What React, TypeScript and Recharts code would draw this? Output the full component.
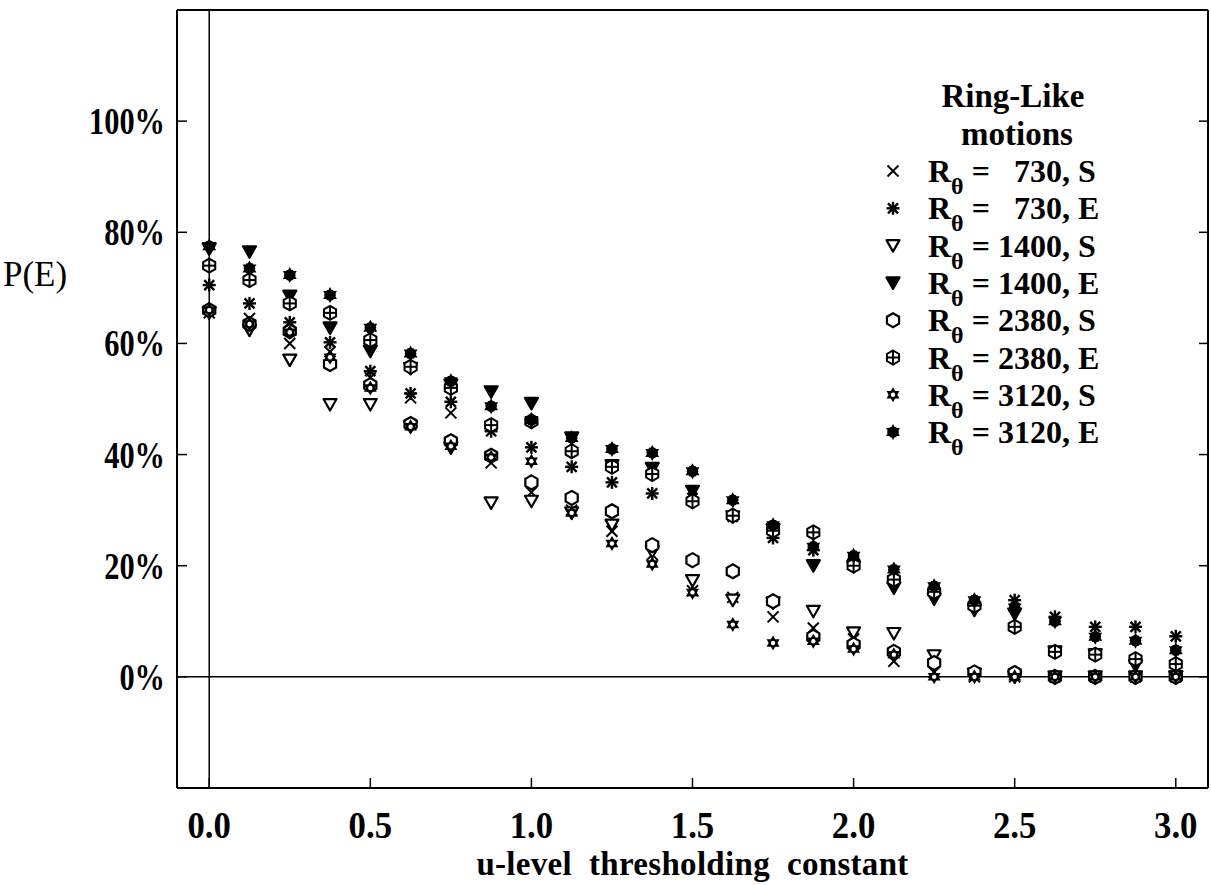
import React from "react"
import { ScatterChart, Scatter, XAxis, YAxis, ReferenceLine, Legend } from "recharts"

// u-level thresholding constant
const uLevels = [0, 0.125, 0.25, 0.375, 0.5, 0.625, 0.75, 0.875, 1.0, 1.125, 1.25, 1.375, 1.5, 1.625, 1.75, 1.875, 2.0, 2.125, 2.25, 2.375, 2.5, 2.625, 2.75, 2.875, 3.0]

// P(E) in percent, one array per case
const re730S = [65.5, 64.5, 60, 58.5, 53.8, 50.2, 47.5, 38.5, 33.2, 30, 26.2, 22, 15.5, 14.3, 10.8, 8.8, 6.8, 2.8, 0.8, 0, 0, 0, 0, 0, 0]
const re730E = [70.5, 67.2, 63.8, 60.2, 55, 51, 49.5, 44.2, 41.3, 37.8, 35, 33, 32.2, 28.8, 25, 22.8, 21, 17.2, 15.6, 13.3, 13.8, 10.8, 9, 9, 7.3]
const re1400S = [65.5, 62.4, 57, 49, 49, 45, 41.2, 31.3, 31.6, 29.5, 27.3, 22.5, 17.3, 13.8, 13.3, 11.8, 7.9, 7.8, 3.8, 0.5, 0, 0, 0, 0, 0]
const re1400E = [77, 76.5, 68.5, 62.8, 58.6, 55.5, 52.5, 51.3, 49.2, 43, 38, 37.5, 33.4, 28.8, 26.5, 20, 19.8, 16, 14, 12, 11.3, 4.5, 4, 2, 0]
const re2380S = [66, 63.5, 62.2, 56.3, 52.5, 45.5, 42.4, 39.8, 35, 32.2, 29.8, 23.7, 21, 19, 13.6, 7.2, 5.8, 4.5, 2.5, 0.8, 0.7, 0, 0, 0, 0]
const re2380E = [74, 71.4, 67.2, 65.5, 60.6, 55.8, 52, 45.3, 46, 40.6, 37.8, 36.5, 31.6, 29, 26.3, 26, 20, 17.5, 15.3, 12.8, 9, 4.5, 4, 3.2, 2.3]
const re3120S = [66, 63.5, 62, 57.5, 52, 45, 41.5, 39.5, 38.8, 29.5, 24, 20.3, 15.2, 9.4, 6.1, 6.4, 5, 4, 0, 0, 0, 0, 0, 0, 0]
const re3120E = [77.5, 73.5, 72.3, 68.7, 62.8, 58.2, 53.2, 48.7, 46.2, 43, 41, 40.3, 37, 31.8, 27.3, 23.4, 21.8, 19.3, 16.3, 13.8, 12.5, 10, 7.2, 6.5, 4.8]

const xTicks = [0, 0.5, 1.0, 1.5, 2.0, 2.5, 3.0]
const yTicks = [0, 20, 40, 60, 80, 100]

type Kind = "cross" | "aster" | "triOpen" | "triFill" | "hexOpen" | "hexPlus" | "starOpen" | "starFill"

const series: { re: string; flow: string; kind: Kind; values: number[] }[] = [
  { re: "\u2007730", flow: "S", kind: "cross", values: re730S },
  { re: "\u2007730", flow: "E", kind: "aster", values: re730E },
  { re: "1400", flow: "S", kind: "triOpen", values: re1400S },
  { re: "1400", flow: "E", kind: "triFill", values: re1400E },
  { re: "2380", flow: "S", kind: "hexOpen", values: re2380S },
  { re: "2380", flow: "E", kind: "hexPlus", values: re2380E },
  { re: "3120", flow: "S", kind: "starOpen", values: re3120S },
  { re: "3120", flow: "E", kind: "starFill", values: re3120E },
]

const FONT = "'Liberation Serif', 'Times New Roman', serif"

const poly = (cx: number, cy: number, r: number, n: number, start: number) =>
  Array.from({ length: n }, (_, i) => {
    const a = start + (i * 2 * Math.PI) / n
    return `${cx + r * Math.cos(a)},${cy + r * Math.sin(a)}`
  }).join(" ")

const Marker = ({ kind, cx, cy }: { kind: Kind; cx: number; cy: number }) => {
  const k = "#000"
  switch (kind) {
    case "cross":
      return (
        <g stroke={k} strokeWidth={2}>
          <line x1={cx - 5.5} y1={cy - 5.5} x2={cx + 5.5} y2={cy + 5.5} />
          <line x1={cx - 5.5} y1={cy + 5.5} x2={cx + 5.5} y2={cy - 5.5} />
        </g>
      )
    case "aster":
      return (
        <g stroke={k} strokeWidth={2.4}>
          <line x1={cx} y1={cy - 6.5} x2={cx} y2={cy + 6.5} />
          <line x1={cx - 6.5} y1={cy} x2={cx + 6.5} y2={cy} />
          <line x1={cx - 5} y1={cy - 5} x2={cx + 5} y2={cy + 5} />
          <line x1={cx - 5} y1={cy + 5} x2={cx + 5} y2={cy - 5} />
        </g>
      )
    case "triOpen":
    case "triFill":
      return (
        <polygon
          points={`${cx - 6.5},${cy - 5.5} ${cx + 6.5},${cy - 5.5} ${cx},${cy + 6}`}
          fill={kind === "triFill" ? k : "#fff"}
          stroke={k}
          strokeWidth={2.2}
          strokeLinejoin="round"
        />
      )
    case "hexOpen":
      return <polygon points={poly(cx, cy, 7, 6, -Math.PI / 2)} fill="#fff" stroke={k} strokeWidth={2.2} />
    case "hexPlus":
      return (
        <g stroke={k} strokeWidth={2}>
          <polygon points={poly(cx, cy, 7, 6, -Math.PI / 2)} fill="#fff" />
          <line x1={cx - 6.5} y1={cy} x2={cx + 6.5} y2={cy} />
          <line x1={cx} y1={cy - 7} x2={cx} y2={cy + 7} />
        </g>
      )
    case "starOpen":
      return (
        <g>
          <polygon points={poly(cx, cy, 7.5, 3, -Math.PI / 2)} fill={k} />
          <polygon points={poly(cx, cy, 7.5, 3, Math.PI / 2)} fill={k} />
          <circle cx={cx} cy={cy} r={2.2} fill="#fff" />
        </g>
      )
    case "starFill":
    default:
      return (
        <g fill={k}>
          <polygon points={poly(cx, cy, 8, 3, -Math.PI / 2)} />
          <polygon points={poly(cx, cy, 8, 3, Math.PI / 2)} />
          <polygon points={poly(cx, cy, 6, 6, 0)} />
        </g>
      )
  }
}

const BottomTick = (props: any) => {
  const { x, y, payload } = props
  return (
    <g>
      <line x1={x} x2={x} y1={y} y2={y - 10} stroke="#000" strokeWidth={1.5} />
      <text
        transform={`translate(${x},${y + 50}) scale(0.94,1)`}
        textAnchor="middle"
        fontFamily={FONT}
        fontWeight="bold"
        fontSize={37}
        fill="#000"
      >
        {Number(payload.value).toFixed(1)}
      </text>
    </g>
  )
}

const TopTick = (props: any) => {
  const { x, y } = props
  return <line x1={x} x2={x} y1={y} y2={y + 10} stroke="#000" strokeWidth={1.5} />
}

const LeftTick = (props: any) => {
  const { x, y, payload } = props
  return (
    <g>
      <line x1={x} x2={x + 10} y1={y} y2={y} stroke="#000" strokeWidth={1.5} />
      <text
        transform={`translate(${x - 12},${y + 13}) scale(0.8,1)`}
        textAnchor="end"
        fontFamily={FONT}
        fontWeight="bold"
        fontSize={38}
        fill="#000"
      >
        {`${payload.value}%`}
      </text>
    </g>
  )
}

const RightTick = (props: any) => {
  const { x, y } = props
  return <line x1={x} x2={x - 9} y1={y} y2={y} stroke="#000" strokeWidth={1.5} />
}

const LegendBox = () => (
  <svg width={350} height={390} style={{ display: "block" }}>
    <g fontFamily={FONT} fontWeight="bold" fill="#000">
      <text x={153} y={37} fontSize={33} textAnchor="middle">Ring-Like</text>
      <text x={157} y={75} fontSize={33} textAnchor="middle">motions</text>
      {series.map((s, i) => {
        const cy = 101 + i * 37.3
        return (
          <g key={i}>
            <Marker kind={s.kind} cx={33} cy={cy} />
            <text x={68} y={cy + 11} fontSize={32}>
              R
              <tspan fontSize={24} dy={12}>θ</tspan>
              <tspan dy={-12}>{` = ${s.re}, ${s.flow}`}</tspan>
            </text>
          </g>
        )
      })}
    </g>
  </svg>
)

export default function App() {
  return (
    <div style={{ position: "absolute", left: 0, top: 0, width: 1211, height: 885, background: "#fff" }}>
      <ScatterChart width={1211} height={885} margin={{ top: 9, right: 2, bottom: 0, left: 0 }}>
        <XAxis
          dataKey="u"
          type="number"
          domain={[-0.1, 3.1]}
          ticks={xTicks}
          height={97}
          tickSize={0}
          tickMargin={0}
          tick={BottomTick}
          axisLine={{ stroke: "#000", strokeWidth: 2 }}
          allowDataOverflow
          label={(p: any) => {
            const vb = p.viewBox
            return (
              <text
                x={vb.x + vb.width / 2}
                y={vb.y + 87}
                textAnchor="middle"
                fontFamily={FONT}
                fontWeight="bold"
                fontSize={33}
                letterSpacing={0.3}
                style={{ whiteSpace: "pre" }}
                fill="#000"
              >
                {"u-level  thresholding  constant"}
              </text>
            )
          }}
        />
        <XAxis
          xAxisId="top"
          orientation="top"
          type="number"
          domain={[-0.1, 3.1]}
          ticks={xTicks}
          height={1}
          tickSize={0}
          tickMargin={0}
          tick={TopTick}
          axisLine={{ stroke: "#000", strokeWidth: 2 }}
          allowDataOverflow
        />
        <YAxis
          dataKey="p"
          type="number"
          domain={[-20, 120]}
          ticks={yTicks}
          width={177}
          tickSize={0}
          tickMargin={0}
          tick={LeftTick}
          axisLine={{ stroke: "#000", strokeWidth: 2 }}
          allowDataOverflow
          label={(p: any) => {
            const vb = p.viewBox
            return (
              <text x={vb.x + 3} y={vb.y + 276} fontFamily={FONT} fontSize={35} fill="#000">
                P(E)
              </text>
            )
          }}
        />
        <YAxis
          yAxisId="right"
          orientation="right"
          type="number"
          domain={[-20, 120]}
          ticks={yTicks}
          width={1}
          tickSize={0}
          tickMargin={0}
          tick={RightTick}
          axisLine={{ stroke: "#000", strokeWidth: 2 }}
          allowDataOverflow
        />
        <ReferenceLine x={0} stroke="#000" strokeWidth={1.5} />
        <ReferenceLine y={0} stroke="#000" strokeWidth={1.5} />
        {series.map((s, i) => (
          <Scatter
            key={i}
            name={`R = ${s.re}, ${s.flow}`}
            data={uLevels.map((u, j) => ({ u, p: s.values[j] }))}
            isAnimationActive={false}
            shape={(p: any) => <Marker kind={s.kind} cx={p.cx} cy={p.cy} />}
          />
        ))}
        <Legend
          layout="vertical"
          align="center"
          verticalAlign="middle"
          content={() => <LegendBox />}
          wrapperStyle={{ left: 860, top: 70, width: 350, height: 390 }}
        />
      </ScatterChart>
    </div>
  )
}
